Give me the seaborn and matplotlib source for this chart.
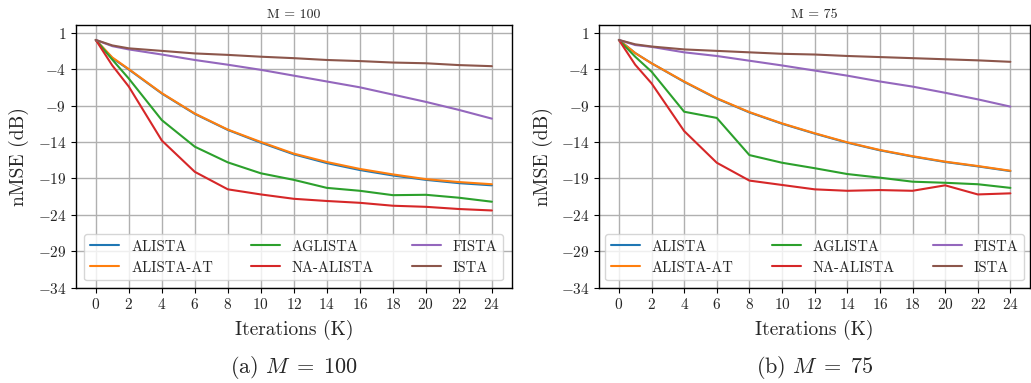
import numpy as np
import pandas as pd
import matplotlib
matplotlib.use("Agg")
import matplotlib.pyplot as plt
import seaborn as sns

iters = [0, 1, 2, 4, 6, 8, 10, 12, 14, 16, 18, 20, 22, 24]
methods = ["ALISTA", "ALISTA-AT", "AGLISTA", "NA-ALISTA", "FISTA", "ISTA"]

# M = 100
alista_100 = [0, -2.5, -4.05, -7.35, -10.15, -12.35, -14.1, -15.7, -16.9, -17.85, -18.6, -19.2, -19.65, -19.95]
alista_at_100 = [0, -2.4, -4.0, -7.3, -10.1, -12.3, -14.0, -15.6, -16.75, -17.7, -18.45, -19.1, -19.5, -19.8]
aglista_100 = [0, -2.7, -5.3, -11.0, -14.65, -16.8, -18.3, -19.2, -20.3, -20.7, -21.3, -21.25, -21.65, -22.2]
na_alista_100 = [0, -3.5, -6.4, -13.8, -18.1, -20.5, -21.2, -21.8, -22.1, -22.35, -22.75, -22.9, -23.2, -23.4]
fista_100 = [0, -0.85, -1.3, -2.0, -2.75, -3.4, -4.1, -4.9, -5.7, -6.5, -7.5, -8.5, -9.6, -10.8]
ista_100 = [0, -0.75, -1.15, -1.5, -1.85, -2.05, -2.3, -2.5, -2.75, -2.9, -3.1, -3.2, -3.45, -3.6]

# M = 75
alista_75 = [0, -1.8, -3.2, -5.75, -8.05, -9.95, -11.5, -12.85, -14.1, -15.15, -16.0, -16.75, -17.35, -18.0]
alista_at_75 = [0, -1.8, -3.2, -5.7, -8.0, -9.9, -11.45, -12.8, -14.05, -15.1, -15.95, -16.7, -17.3, -17.95]
aglista_75 = [0, -2.3, -4.35, -9.85, -10.7, -15.8, -16.85, -17.6, -18.4, -18.9, -19.45, -19.6, -19.8, -20.3]
na_alista_75 = [0, -3.4, -5.95, -12.5, -16.85, -19.3, -19.9, -20.5, -20.7, -20.6, -20.7, -19.95, -21.2, -21.05]
fista_75 = [0, -0.7, -0.95, -1.7, -2.2, -2.85, -3.5, -4.2, -4.9, -5.7, -6.4, -7.25, -8.15, -9.15]
ista_75 = [0, -0.6, -0.9, -1.3, -1.5, -1.7, -1.9, -2.0, -2.2, -2.35, -2.5, -2.65, -2.8, -3.0]

xticks = list(range(0, 25, 2))
yticks = [1, -4, -9, -14, -19, -24, -29, -34]

panels = [
    ("M = 100", r"(a) $M\;=\;100$", [alista_100, alista_at_100, aglista_100, na_alista_100, fista_100, ista_100]),
    ("M = 75", r"(b) $M\;=\;75$", [alista_75, alista_at_75, aglista_75, na_alista_75, fista_75, ista_75]),
]

sns.set_style("ticks")
plt.rcParams["font.family"] = "serif"
plt.rcParams["font.serif"] = ["cmr10", "DejaVu Serif"]
plt.rcParams["mathtext.fontset"] = "cm"
plt.rcParams["axes.formatter.use_mathtext"] = True

fig = plt.figure(figsize=(10.31, 3.83), dpi=100)
positions = [[0.0737, 0.2488, 0.4226, 0.6859], [0.5813, 0.2488, 0.4177, 0.6859]]
palette = sns.color_palette("tab10", 6)

for pos, (title, caption, series) in zip(positions, panels):
    ax = fig.add_axes(pos)
    df = pd.concat([
        pd.DataFrame({"K": iters, "nMSE": vals, "method": m})
        for m, vals in zip(methods, series)
    ])
    sns.lineplot(data=df, x="K", y="nMSE", hue="method", hue_order=methods,
                 palette=palette, linewidth=1.5, ax=ax, legend=True)
    ax.set_xticks(xticks)
    ax.set_yticks(yticks)
    ax.set_xlim(-1.2, 25.2)
    ax.set_ylim(-34, 2.05)
    ax.grid(True, color="#b0b0b0", linewidth=1.0)
    ax.set_axisbelow(True)
    for s in ax.spines.values():
        s.set_visible(True)
        s.set_color("black")
        s.set_linewidth(1.0)
    ax.tick_params(labelsize=11, length=3.5, color="black")
    ax.set_xlabel("Iterations (K)", fontsize=14, labelpad=5)
    ax.set_ylabel("nMSE (dB)", fontsize=14, labelpad=6)
    ax.set_title(title, fontsize=10, pad=5)
    ax.legend(title=None, ncol=3, loc="lower center", bbox_to_anchor=(0.5, 0.0),
              fontsize=10.5, columnspacing=2.6, handlelength=2.0, frameon=True,
              fancybox=True, framealpha=0.8, edgecolor="#cccccc")
    cx = pos[0] + pos[2] / 2
    fig.text(cx, 0.04, caption, ha="center", va="center", fontsize=16)

fig.savefig("out.png", dpi=100)
